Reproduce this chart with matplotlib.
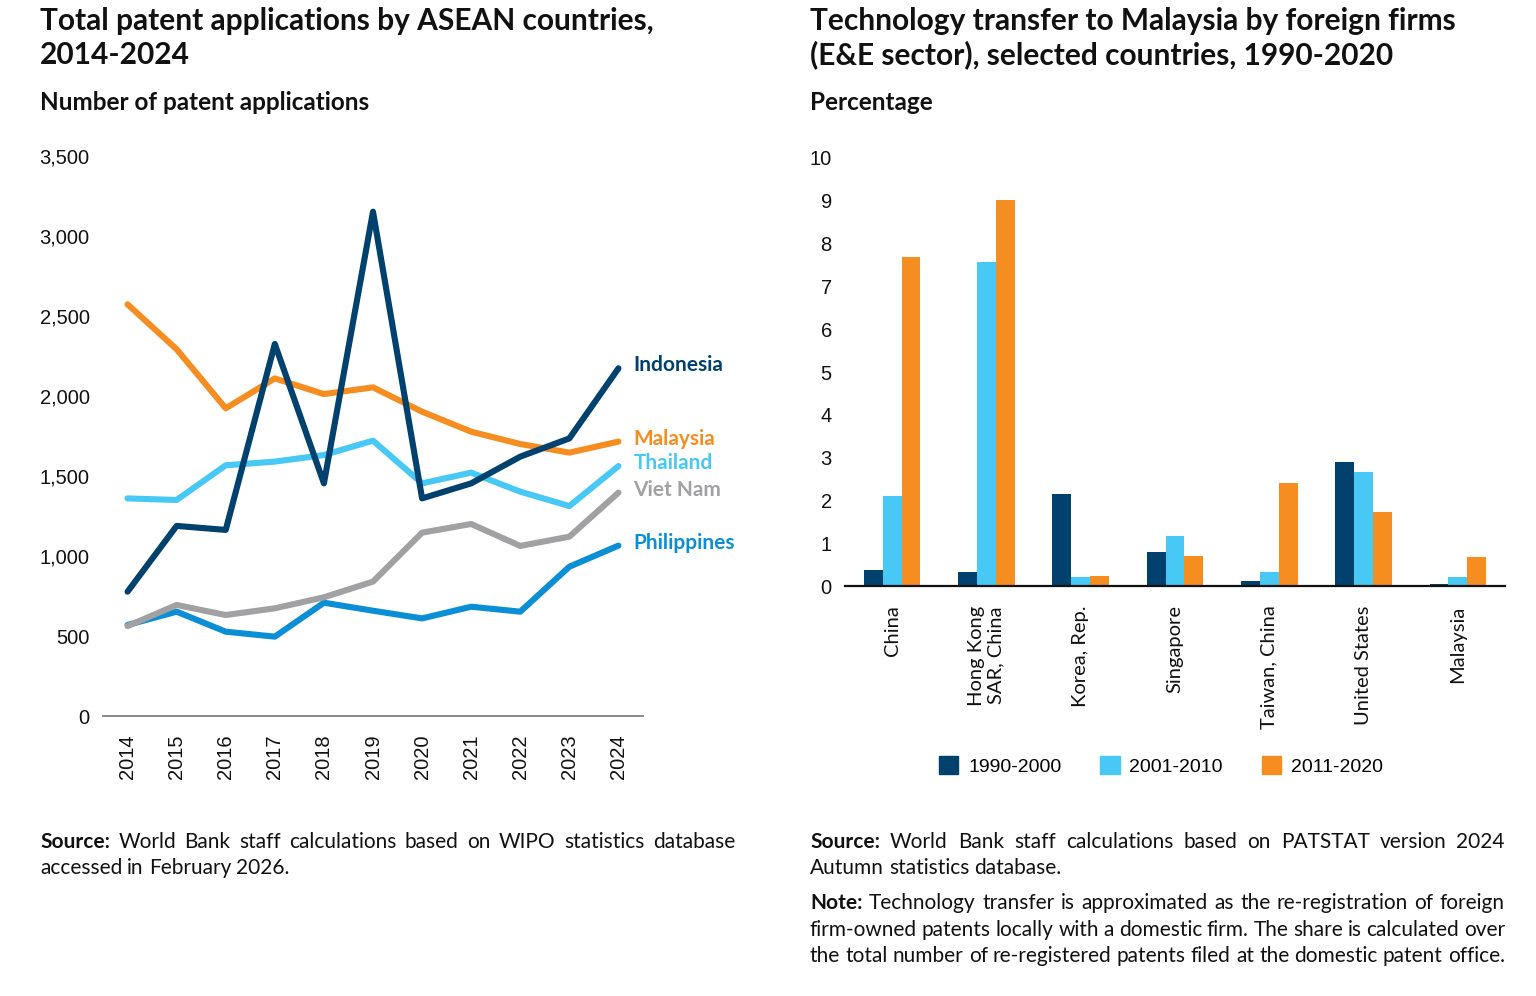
import numpy as np
import matplotlib
matplotlib.use("Agg")
from matplotlib import pyplot as plt
from matplotlib.patches import Patch

# Left panel: patent applications by ASEAN country
years = ["2014", "2015", "2016", "2017", "2018", "2019", "2020", "2021", "2022", "2023", "2024"]
indonesia = [777, 1188, 1163, 2325, 1454, 3152, 1360, 1454, 1621, 1735, 2173]
malaysia = [2573, 2292, 1923, 2110, 2012, 2054, 1902, 1777, 1700, 1646, 1715]
thailand = [1360, 1350, 1567, 1590, 1631, 1721, 1454, 1521, 1402, 1312, 1562]
viet_nam = [562, 694, 631, 673, 742, 840, 1146, 1200, 1063, 1121, 1396]
philippines = [569, 652, 527, 496, 708, 658, 610, 683, 652, 933, 1065]

# Right panel: technology transfer shares (%)
countries = ["China", "Hong Kong\nSAR, China", "Korea, Rep.", "Singapore",
             "Taiwan, China", "United States", "Malaysia"]
p1990_2000 = [0.37, 0.33, 2.15, 0.79, 0.12, 2.90, 0.04]
p2001_2010 = [2.10, 7.57, 0.21, 1.17, 0.33, 2.66, 0.21]
p2011_2020 = [7.69, 9.02, 0.23, 0.70, 2.41, 1.73, 0.68]
periods = ["1990-2000", "2001-2010", "2011-2020"]

NAVY = "#00416E"
ORANGE = "#F58D21"
SKY = "#47C8F5"
GREY = "#A1A1A4"
BLUE = "#0A8ED6"
TXT = "#111111"

TICK_FONT = ["Liberation Sans", "DejaVu Sans"]
HEAD_FONT = ["Lato", "DejaVu Sans"]

W, H = 1536, 996
fig = plt.figure(figsize=(W / 100, H / 100), dpi=100)


def fx(px):
    return px / W


def fy(py):
    return 1 - py / H


# ---------------- left chart ----------------
ax1 = fig.add_axes([fx(103), fy(716), fx(643) - fx(103), fy(156) - fy(716)])
xs = np.arange(len(years))
series = [
    ("Indonesia", indonesia, NAVY),
    ("Malaysia", malaysia, ORANGE),
    ("Thailand", thailand, SKY),
    ("Viet Nam", viet_nam, GREY),
    ("Philippines", philippines, BLUE),
]
for name, vals, col in [series[4], series[3], series[2], series[1], series[0]]:
    ax1.plot(xs, vals, color=col, lw=4.4, solid_capstyle="round", solid_joinstyle="round")
for name, vals, col in series:
    ax1.annotate(name, xy=(xs[-1], vals[-1]), xytext=(15, 3), textcoords="offset pixels",
                 color=col, fontsize=15, fontweight="bold", family=HEAD_FONT,
                 va="center", ha="left", annotation_clip=False)

ax1.set_xlim(-0.5, 10.5)
ax1.set_ylim(0, 3500)
ax1.set_yticks(np.arange(0, 3501, 500))
ax1.set_yticklabels([f"{v:,}" for v in range(0, 3501, 500)])
ax1.set_xticks(xs)
ax1.set_xticklabels(years, rotation=90)
for s in ["top", "right", "left"]:
    ax1.spines[s].set_visible(False)
ax1.spines["bottom"].set_color("#7f7f7f")
ax1.spines["bottom"].set_linewidth(1.3)
ax1.tick_params(axis="both", length=0, labelsize=14.5, colors=TXT)
ax1.tick_params(axis="y", pad=9.5)
ax1.tick_params(axis="x", pad=13.5)
for lab in ax1.get_xticklabels() + ax1.get_yticklabels():
    lab.set_family(TICK_FONT)

# ---------------- right chart ----------------
ax2 = fig.add_axes([fx(845), fy(586), fx(1505) - fx(845), fy(158) - fy(586)])
xc = np.arange(len(countries))
bw = 0.2
ax2.bar(xc - bw, p1990_2000, bw, color=NAVY, label=periods[0])
ax2.bar(xc, p2001_2010, bw, color=SKY, label=periods[1])
ax2.bar(xc + bw, p2011_2020, bw, color=ORANGE, label=periods[2])
ax2.set_xlim(-0.5, 6.5)
ax2.set_ylim(0, 10)
ax2.set_yticks(range(0, 11))
ax2.set_xticks(xc)
ax2.set_xticklabels(countries, rotation=90, family=HEAD_FONT, fontsize=14.5,
                    multialignment="center")
for s in ["top", "right", "left"]:
    ax2.spines[s].set_visible(False)
ax2.spines["bottom"].set_color("#111111")
ax2.spines["bottom"].set_linewidth(1.6)
ax2.tick_params(axis="both", length=0, colors=TXT)
ax2.tick_params(axis="y", pad=9.5, labelsize=14.5)
ax2.tick_params(axis="x", pad=14)
for lab in ax2.get_yticklabels():
    lab.set_family(TICK_FONT)

handles = [Patch(color=c, label=l) for c, l in zip([NAVY, SKY, ORANGE], periods)]
fig.legend(handles=handles, loc="center", bbox_to_anchor=(fx(1161), fy(766)),
           ncol=3, frameon=False, handlelength=1.0, handleheight=1.0,
           handletextpad=0.5, columnspacing=2.0, borderpad=0,
           prop={"family": TICK_FONT, "size": 14})

# ---------------- titles ----------------
title_kw = dict(fontsize=21.5, fontweight="bold", family=HEAD_FONT, color=TXT,
                va="baseline", ha="left")
fig.text(fx(40), fy(30), "Total patent applications by ASEAN countries,", **title_kw)
fig.text(fx(40), fy(64), "2014-2024", **title_kw)
fig.text(fx(810), fy(30), "Technology transfer to Malaysia by foreign firms", **title_kw)
fig.text(fx(810), fy(64), "(E&E sector), selected countries, 1990-2020", **title_kw)
fig.text(fx(40), fy(110), "Number of patent applications", fontsize=17.5,
         fontweight="bold", family=HEAD_FONT, color=TXT, va="baseline")
fig.text(fx(810), fy(110), "Percentage", fontsize=17.5,
         fontweight="bold", family=HEAD_FONT, color=TXT, va="baseline")

# ---------------- notes (justified lines) ----------------
renderer = fig.canvas.get_renderer()
NOTE_SIZE = 15


def note_line(x0, x1, y, text, bold_words=0, justify=True):
    words = text.split()
    arts = []
    for i, w in enumerate(words):
        t = fig.text(fx(x0), fy(y), w, fontsize=NOTE_SIZE, family=HEAD_FONT,
                     fontweight="bold" if i < bold_words else "normal",
                     color=TXT, va="baseline", ha="left")
        arts.append(t)
    widths = [a.get_window_extent(renderer).width for a in arts]
    if justify and len(words) > 1:
        gap = (x1 - x0 - sum(widths)) / (len(words) - 1)
    else:
        gap = NOTE_SIZE * 100 / 72 * 0.24
    x = x0
    for a, wd in zip(arts, widths):
        a.set_x(fx(x))
        x += wd + gap


note_line(40, 735, 848, "Source: World Bank staff calculations based on WIPO statistics database", 1)
note_line(40, 735, 874, "accessed in February 2026.", justify=False)
note_line(810, 1505, 848, "Source: World Bank staff calculations based on PATSTAT version 2024", 1)
note_line(810, 1505, 874, "Autumn statistics database.", justify=False)
note_line(810, 1505, 909, "Note: Technology transfer is approximated as the re-registration of foreign", 1)
note_line(810, 1505, 936, "firm-owned patents locally with a domestic firm. The share is calculated over")
note_line(810, 1505, 962, "the total number of re-registered patents filed at the domestic patent office.")

fig.savefig("out.png", dpi=100)
